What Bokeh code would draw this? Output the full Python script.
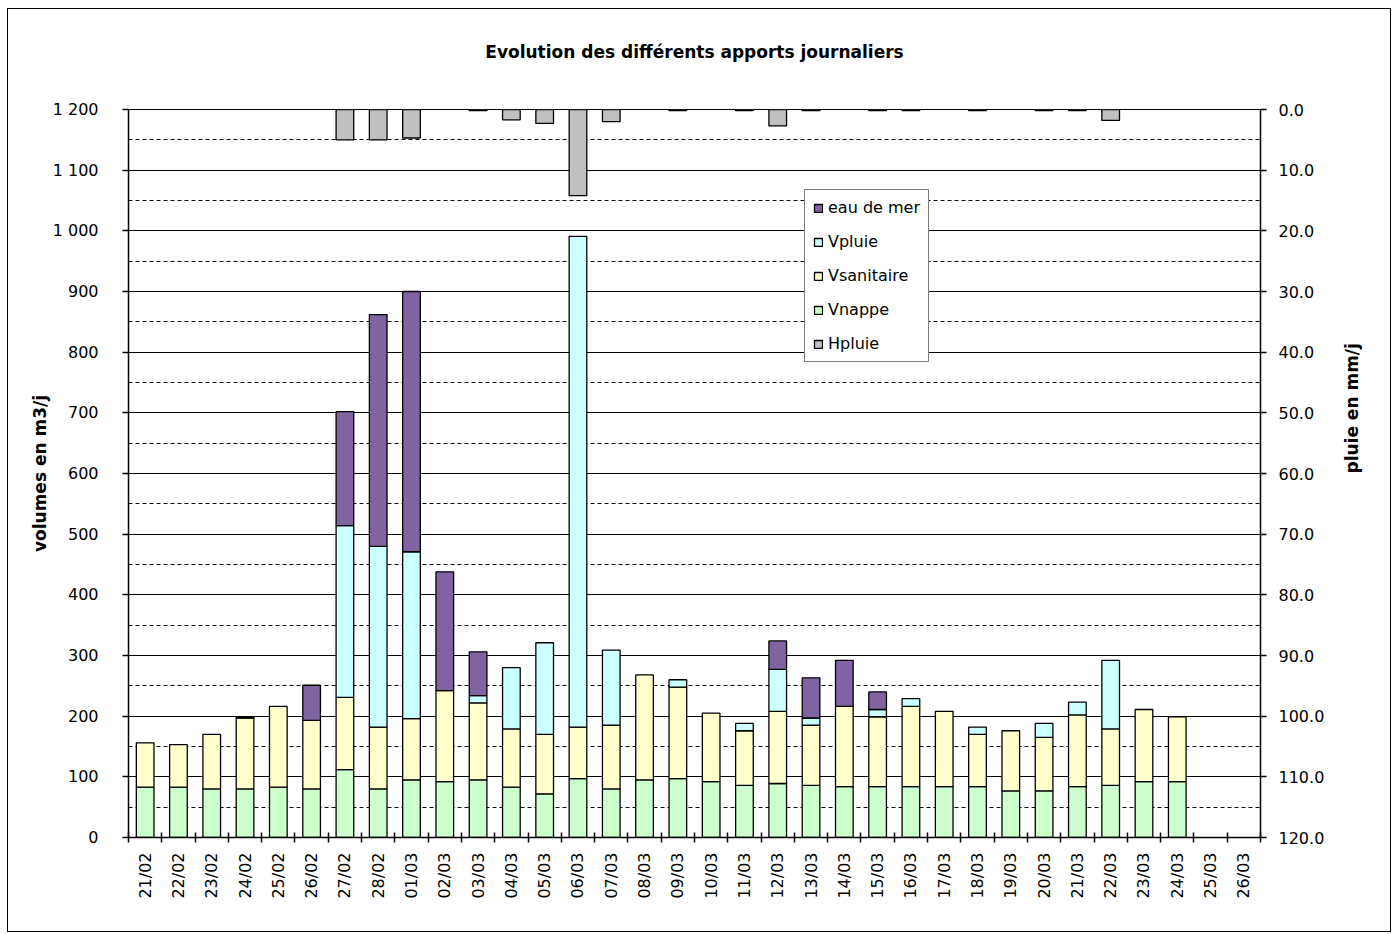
import numpy as np
from bokeh.plotting import figure
from bokeh.models import (Range1d, LinearAxis, FixedTicker, Grid, Legend, LegendItem,
                          ColumnDataSource, PrintfTickFormatter, Title)
from bokeh.embed import file_html
from bokeh.resources import INLINE

# ---------------- data ----------------
dates = ["21/02", "22/02", "23/02", "24/02", "25/02", "26/02", "27/02", "28/02",
         "01/03", "02/03", "03/03", "04/03", "05/03", "06/03", "07/03", "08/03",
         "09/03", "10/03", "11/03", "12/03", "13/03", "14/03", "15/03", "16/03",
         "17/03", "18/03", "19/03", "20/03", "21/03", "22/03", "23/03", "24/03",
         "25/03", "26/03"]
vnappe = [83, 83, 80, 80, 83, 80, 112, 80, 95, 92, 95, 83, 72, 97, 80, 95,
          97, 92, 86, 89, 86, 84, 84, 84, 84, 84, 77, 77, 84, 86, 92, 92, 0, 0]
vsanitaire = [73, 70, 90, 117, 133, 113, 119, 102, 101, 150, 127, 96, 98, 85, 105, 173,
              151, 113, 90, 119, 99, 132, 115, 132, 124, 86, 99, 88, 118, 93, 119, 107, 0, 0]
vpluie = [0, 0, 0, 2, 0, 0, 283, 298, 275, 0, 12, 101, 151, 809, 124, 0,
          12, 0, 12, 69, 12, 0, 12, 13, 0, 12, 0, 23, 21, 113, 0, 0, 0, 0]
eau_de_mer = [0, 0, 0, 0, 0, 58, 188, 382, 429, 196, 72, 0, 0, 0, 0, 0,
              0, 0, 0, 47, 66, 76, 29, 0, 0, 0, 0, 0, 0, 0, 0, 0, 0, 0]
hpluie = [0, 0, 0, 0, 0, 0, 5.0, 5.0, 4.7, 0, 0.2, 1.7, 2.3, 14.2, 2.0, 0,
          0.2, 0, 0.2, 2.7, 0.2, 0, 0.2, 0.2, 0, 0.2, 0, 0.2, 0.2, 1.8, 0, 0, 0, 0]

left_ticks = [0, 100, 200, 300, 400, 500, 600, 700, 800, 900, 1000, 1100, 1200]
left_tick_labels = ["0", "100", "200", "300", "400", "500", "600", "700", "800",
                    "900", "1 000", "1 100", "1 200"]
right_ticks = [0, 10, 20, 30, 40, 50, 60, 70, 80, 90, 100, 110, 120]

title_text = "Evolution des différents apports journaliers"
left_label = "volumes en m3/j"
right_label = "pluie en mm/j"

# ---------------- figure ----------------
FONT = "DejaVu Sans"
n = len(dates)
x = np.arange(n) + 0.5

p = figure(width=1384, height=924, x_range=Range1d(0, n), y_range=Range1d(0, 1200),
           output_backend="svg", toolbar_location=None,
           min_border_left=120, min_border_right=132, min_border_top=100,
           min_border_bottom=96, background_fill_color="white",
           border_fill_color="white")
p.styles = {"border": "1px solid black", "margin-left": "7px", "margin-top": "8px"}
p.extra_y_ranges = {"rain": Range1d(120, 0)}

# default title left empty; a spacer panel (nearest the frame) then the real title
p.title.text = ""
p.title.standoff = 0
spacer = Title(text=" ", text_font_size="1px", standoff=45)
p.add_layout(spacer, "above")
main_title = Title(text=title_text, align="center", offset=4, text_font=FONT,
                   text_font_size="17px", text_font_style="bold", text_color="black",
                   standoff=0)
p.add_layout(main_title, "above")

p.outline_line_color = "black"
p.outline_line_width = 1

# grids
p.xgrid.grid_line_color = None
p.ygrid.ticker = FixedTicker(ticks=left_ticks)
p.ygrid.grid_line_color = "black"
p.ygrid.grid_line_width = 1
dashed = [t + 50 for t in left_ticks[:-1]]
p.add_layout(Grid(dimension=1, ticker=FixedTicker(ticks=dashed), grid_line_color="black",
                  grid_line_width=1, grid_line_dash="4 3"))

# stacked bars
layers = [("Vnappe", vnappe, "#CCFFCC"), ("Vsanitaire", vsanitaire, "#FFFFCC"),
          ("Vpluie", vpluie, "#CCFFFF"), ("eau de mer", eau_de_mer, "#8064A2")]
bottom = np.zeros(n)
rend = {}
for name, vals, color in layers:
    vals = np.array(vals, dtype=float)
    top = bottom + vals
    m = vals > 0
    src = ColumnDataSource(dict(x=x[m], bottom=bottom[m], top=top[m]))
    rend[name] = p.vbar(x="x", bottom="bottom", top="top", width=0.53, source=src,
                        fill_color=color, line_color="black", line_width=1.3)
    bottom = top

h = np.array(hpluie, dtype=float)
mh = h > 0
srch = ColumnDataSource(dict(x=x[mh], h=h[mh]))
rend["Hpluie"] = p.vbar(x="x", top=0, bottom="h", width=0.53, source=srch,
                        y_range_name="rain", fill_color="#C0C0C0",
                        line_color="black", line_width=1.3)

# axes
def style_axis(ax):
    ax.axis_line_color = "black"
    ax.axis_line_width = 1.5
    ax.major_tick_line_color = "black"
    ax.major_tick_line_width = 1.5
    ax.minor_tick_line_color = None
    ax.major_label_text_font = FONT
    ax.major_label_text_font_size = "16px"
    ax.major_label_text_color = "black"
    ax.axis_label_text_font = FONT
    ax.axis_label_text_font_size = "17px"
    ax.axis_label_text_font_style = "bold"
    ax.axis_label_text_color = "black"

ya = p.yaxis[0]
style_axis(ya)
ya.ticker = FixedTicker(ticks=left_ticks)
ya.major_label_overrides = {t: l for t, l in zip(left_ticks, left_tick_labels)}
ya.major_tick_in = 0
ya.major_tick_out = 6
ya.major_label_standoff = 24
ya.axis_label = left_label
ya.axis_label_standoff = 0

ra = LinearAxis(y_range_name="rain", ticker=FixedTicker(ticks=right_ticks),
                formatter=PrintfTickFormatter(format="%.1f"))
style_axis(ra)
ra.major_tick_in = 0
ra.major_tick_out = 6
ra.major_label_standoff = 12
ra.axis_label = right_label
ra.axis_label_standoff = 25
try:
    ra.axis_label_orientation = np.pi / 2
except Exception:
    pass
p.add_layout(ra, "right")

xa = p.xaxis[0]
style_axis(xa)
xa.ticker = FixedTicker(ticks=list(x), minor_ticks=list(range(n + 1)))
xa.major_label_overrides = {float(xv): d for xv, d in zip(x, dates)}
xa.major_tick_line_color = None
xa.major_tick_in = 0
xa.major_tick_out = 0
xa.minor_tick_line_color = "black"
xa.minor_tick_line_width = 1.5
xa.minor_tick_in = 5
xa.minor_tick_out = 5
xa.major_label_orientation = np.pi / 2
xa.major_label_standoff = 10

# legend
legend = Legend(items=[LegendItem(label="eau de mer", renderers=[rend["eau de mer"]]),
                       LegendItem(label="Vpluie", renderers=[rend["Vpluie"]]),
                       LegendItem(label="Vsanitaire", renderers=[rend["Vsanitaire"]]),
                       LegendItem(label="Vnappe", renderers=[rend["Vnappe"]]),
                       LegendItem(label="Hpluie", renderers=[rend["Hpluie"]])],
                location=(676, 475))
legend.border_line_color = "black"
legend.border_line_width = 1
legend.background_fill_color = "white"
legend.background_fill_alpha = 1
legend.label_text_font = FONT
legend.label_text_font_size = "16px"
legend.label_text_color = "black"
legend.label_height = 16
legend.glyph_height = 10
legend.glyph_width = 10
legend.spacing = 15
legend.padding = 8
legend.margin = 0
legend.label_standoff = 5
p.add_layout(legend)

open("out.html", "w").write(file_html(p, INLINE))
